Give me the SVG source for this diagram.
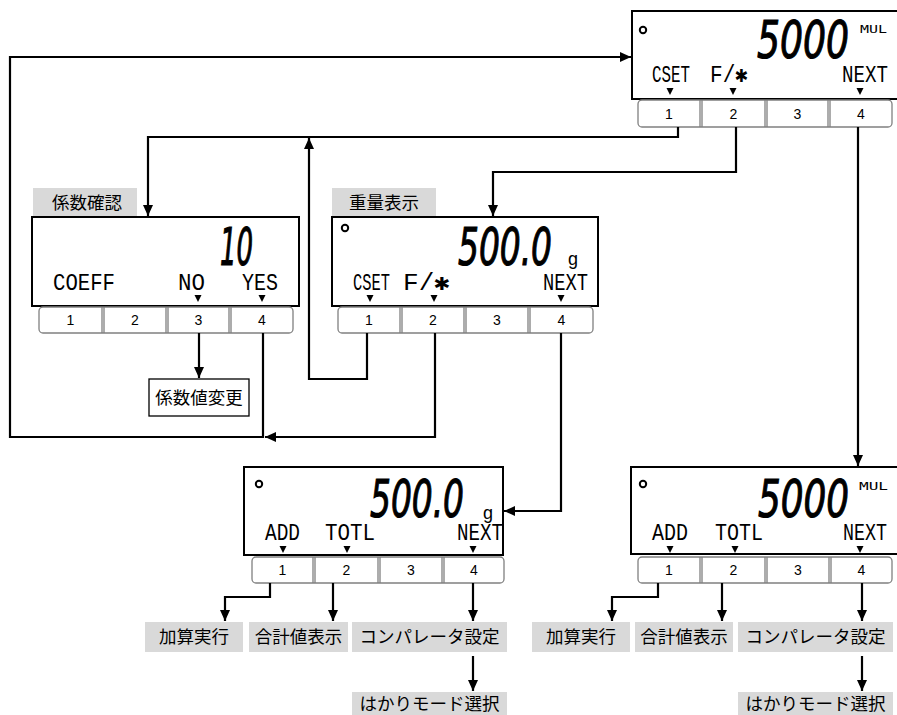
<svg xmlns="http://www.w3.org/2000/svg" width="897" height="715" viewBox="0 0 897 715">
<style>
.disp{fill:#fff;stroke:#000;stroke-width:2}
.row{fill:#fff;stroke:#808080;stroke-width:1.3}
.div{stroke:#808080;stroke-width:1.3}
.num{font-family:"Liberation Sans",Arial,sans-serif;font-size:14px;fill:#000;text-anchor:middle}
.lcd{font-family:"Liberation Mono","DejaVu Sans Mono",monospace;font-size:23px;fill:#000}
.big{font-family:"DejaVu Sans","Liberation Sans",sans-serif;font-size:52px;font-style:italic;font-weight:normal;fill:#000;stroke:#000;stroke-width:1.2}
.unit{font-family:"DejaVu Sans Mono",monospace;font-size:11px;fill:#000}
.g{font-family:"Liberation Sans",Arial,sans-serif;font-size:18px;fill:#000}
.dot{fill:none;stroke:#000;stroke-width:2}
.lbl{fill:#d9d9d9}
.jp{font-family:"Noto Sans CJK JP","Noto Sans CJK SC",sans-serif;font-size:17.5px;fill:#000;text-anchor:middle}
.con{fill:none;stroke:#000;stroke-width:2.2}
.arr{marker-end:url(#ah)}
</style>
<defs>
<marker id="ah" markerUnits="userSpaceOnUse" markerWidth="12" markerHeight="10" refX="11" refY="5" orient="auto">
<path d="M0,0 L11,5 L0,10 z" fill="#000"/>
</marker>
<path id="tri" d="M-3.5,0 L3.5,0 L0,7 z" fill="#000"/>
</defs>

<g id="d1">
<rect class="disp" x="632" y="11" width="268" height="88"/>
<circle class="dot" cx="643" cy="30" r="3.2"/>
<text class="big" x="757" y="58" textLength="92" lengthAdjust="spacingAndGlyphs">5000</text>
<text class="unit" x="860" y="33" textLength="27" lengthAdjust="spacingAndGlyphs">MUL</text>
<text class="lcd" x="652" y="82" textLength="38" lengthAdjust="spacingAndGlyphs">CSET</text>
<text class="lcd" x="710" y="82" textLength="38" lengthAdjust="spacingAndGlyphs">F/✱</text>
<text class="lcd" x="842" y="82" textLength="46" lengthAdjust="spacingAndGlyphs">NEXT</text>
<use href="#tri" x="670" y="88"/><use href="#tri" x="733" y="88"/><use href="#tri" x="860" y="88"/>
<rect class="row" x="638" y="100" width="254" height="27" rx="4"/>
<path class="div" d="M700,100V127M702,100V127M765,100V127M767,100V127M828,100V127M830,100V127"/>
<text class="num" x="669" y="119">1</text><text class="num" x="733.5" y="119">2</text><text class="num" x="797.5" y="119">3</text><text class="num" x="861" y="119">4</text>
</g>

<g id="d2">
<rect class="lbl" x="33" y="188" width="104" height="29"/>
<text class="jp" x="87" y="209">係数確認</text>
<rect class="disp" x="32" y="217" width="267" height="89"/>
<text class="big" x="220" y="265" textLength="33" lengthAdjust="spacingAndGlyphs">10</text>
<text class="lcd" x="53" y="290" textLength="62" lengthAdjust="spacingAndGlyphs">COEFF</text>
<text class="lcd" x="178" y="290" textLength="27" lengthAdjust="spacingAndGlyphs">NO</text>
<text class="lcd" x="242" y="290" textLength="36" lengthAdjust="spacingAndGlyphs">YES</text>
<use href="#tri" x="198" y="295"/><use href="#tri" x="262" y="295"/>
<rect class="row" x="39" y="307" width="254" height="26" rx="4"/>
<path class="div" d="M102,307V333M104,307V333M166,307V333M168,307V333M229,307V333M231,307V333"/>
<text class="num" x="70.5" y="325">1</text><text class="num" x="135" y="325">2</text><text class="num" x="198.5" y="325">3</text><text class="num" x="262" y="325">4</text>
</g>

<g id="d3">
<rect class="lbl" x="332" y="188" width="104" height="29"/>
<text class="jp" x="384" y="209">重量表示</text>
<rect class="disp" x="332" y="217" width="266" height="89"/>
<circle class="dot" cx="345" cy="228" r="3.2"/>
<text class="big" x="458" y="265" textLength="94" lengthAdjust="spacingAndGlyphs">500.0</text>
<text class="g" x="568" y="265">g</text>
<text class="lcd" x="353" y="290" textLength="37" lengthAdjust="spacingAndGlyphs">CSET</text>
<text class="lcd" x="403" y="290" textLength="47" lengthAdjust="spacingAndGlyphs">F/✱</text>
<text class="lcd" x="543" y="290" textLength="45" lengthAdjust="spacingAndGlyphs">NEXT</text>
<use href="#tri" x="370" y="295"/><use href="#tri" x="434" y="295"/><use href="#tri" x="561" y="295"/>
<rect class="row" x="338" y="307" width="255" height="26" rx="4"/>
<path class="div" d="M400,307V333M402,307V333M464,307V333M466,307V333M528,307V333M530,307V333"/>
<text class="num" x="369" y="325">1</text><text class="num" x="433" y="325">2</text><text class="num" x="497" y="325">3</text><text class="num" x="561.5" y="325">4</text>
</g>

<g id="coef-change">
<rect x="149" y="379" width="100" height="37" fill="#fff" stroke="#000" stroke-width="1.3"/>
<text class="jp" x="199" y="404">係数値変更</text>
</g>

<g id="d4">
<rect class="disp" x="244" y="467" width="259" height="88"/>
<circle class="dot" cx="259" cy="484" r="3.2"/>
<text class="big" x="370" y="517" textLength="94" lengthAdjust="spacingAndGlyphs">500.0</text>
<text class="g" x="483" y="519">g</text>
<text class="lcd" x="265" y="540" textLength="35" lengthAdjust="spacingAndGlyphs">ADD</text>
<text class="lcd" x="325" y="540" textLength="50" lengthAdjust="spacingAndGlyphs">TOTL</text>
<text class="lcd" x="457" y="540" textLength="46" lengthAdjust="spacingAndGlyphs">NEXT</text>
<use href="#tri" x="283" y="546"/><use href="#tri" x="347" y="546"/><use href="#tri" x="473" y="546"/>
<rect class="row" x="252" y="557" width="252" height="26" rx="4"/>
<path class="div" d="M313,557V583M315,557V583M378,557V583M380,557V583M442,557V583M444,557V583"/>
<text class="num" x="282.5" y="575">1</text><text class="num" x="346.5" y="575">2</text><text class="num" x="411" y="575">3</text><text class="num" x="474" y="575">4</text>
</g>

<g id="d5">
<rect class="disp" x="631" y="467" width="269" height="87"/>
<circle class="dot" cx="643" cy="484" r="3.2"/>
<text class="big" x="758" y="517" textLength="91" lengthAdjust="spacingAndGlyphs">5000</text>
<text class="unit" x="859" y="490" textLength="29" lengthAdjust="spacingAndGlyphs">MUL</text>
<text class="lcd" x="652" y="540" textLength="36" lengthAdjust="spacingAndGlyphs">ADD</text>
<text class="lcd" x="715" y="540" textLength="48" lengthAdjust="spacingAndGlyphs">TOTL</text>
<text class="lcd" x="843" y="540" textLength="44" lengthAdjust="spacingAndGlyphs">NEXT</text>
<use href="#tri" x="670" y="546"/><use href="#tri" x="735" y="546"/><use href="#tri" x="860" y="546"/>
<rect class="row" x="638" y="557" width="254" height="26" rx="4"/>
<path class="div" d="M700,557V583M702,557V583M765,557V583M767,557V583M829,557V583M831,557V583"/>
<text class="num" x="669" y="575">1</text><text class="num" x="733.5" y="575">2</text><text class="num" x="798" y="575">3</text><text class="num" x="861.5" y="575">4</text>
</g>

<g id="labels-left">
<rect class="lbl" x="145" y="622" width="98" height="30"/><text class="jp" x="194" y="643">加算実行</text>
<rect class="lbl" x="249" y="622" width="99" height="30"/><text class="jp" x="298.5" y="643">合計値表示</text>
<rect class="lbl" x="352" y="622" width="155" height="30"/><text class="jp" x="429.5" y="643">コンパレータ設定</text>
<rect class="lbl" x="352" y="692" width="155" height="30"/><text class="jp" x="429.5" y="710">はかりモード選択</text>
</g>
<g id="labels-right">
<rect class="lbl" x="532" y="622" width="98" height="30"/><text class="jp" x="581" y="643">加算実行</text>
<rect class="lbl" x="635" y="622" width="98" height="30"/><text class="jp" x="684" y="643">合計値表示</text>
<rect class="lbl" x="738" y="622" width="155" height="30"/><text class="jp" x="815.5" y="643">コンパレータ設定</text>
<rect class="lbl" x="738" y="692" width="155" height="30"/><text class="jp" x="815.5" y="710">はかりモード選択</text>
</g>

<g id="connectors">
<path class="con arr" d="M263,333V437H10V57H631"/>
<path class="con arr" d="M435,333V437H265"/>
<path class="con arr" d="M678,127V137H148V216"/>
<path class="con arr" d="M367,333V379H309V138"/>
<path class="con arr" d="M736,127V172H493V216"/>
<path class="con arr" d="M858,127V466"/>
<path class="con arr" d="M199,333V378"/>
<path class="con arr" d="M561,333V511H504"/>
<path class="con arr" d="M270,583V597H225V621"/>
<path class="con arr" d="M333,583V621"/>
<path class="con arr" d="M473,583V621"/>
<path class="con arr" d="M473,656V691"/>
<path class="con arr" d="M658,583V597H612V621"/>
<path class="con arr" d="M722,583V621"/>
<path class="con arr" d="M862,583V621"/>
<path class="con arr" d="M862,656V691"/>
</g>
</svg>
